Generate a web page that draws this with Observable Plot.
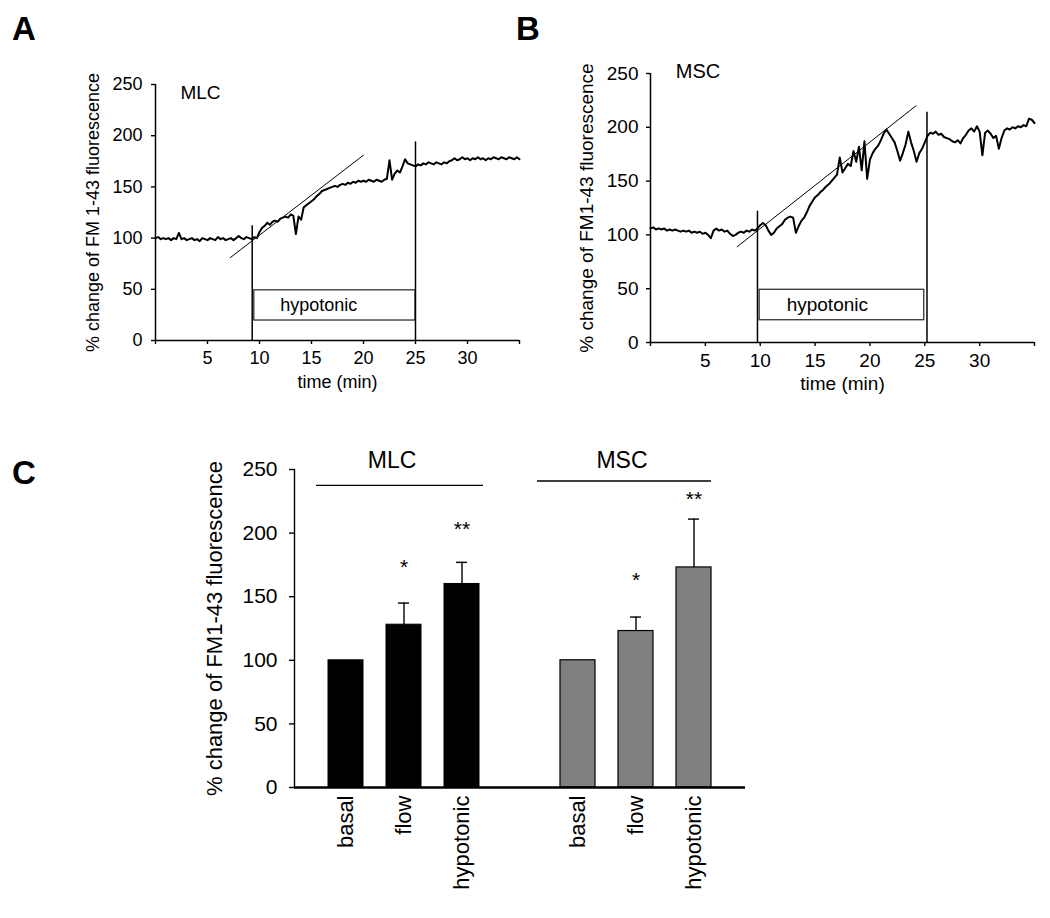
<!DOCTYPE html>
<html><head><meta charset="utf-8">
<script src="https://cdn.jsdelivr.net/npm/d3@7"></script>
<script src="https://cdn.jsdelivr.net/npm/@observablehq/plot@0.6"></script>
<style>
body{margin:0;background:#fff;}
#fig{position:relative;width:1050px;height:918px;overflow:hidden;font-family:"Liberation Sans",Arial,sans-serif;background:#fff;}
.panel{position:absolute;}
.letter{position:absolute;font-weight:bold;font-size:33px;line-height:33px;color:#000;}
</style></head><body>
<div id="fig">
  <div class="letter" style="left:12px;top:12px">A</div>
  <div class="letter" style="left:516px;top:12px">B</div>
  <div class="letter" style="left:12px;top:456px">C</div>
  <div class="panel" id="pa" style="left:0px;top:60px"></div>
  <div class="panel" id="pb" style="left:510px;top:50px"></div>
  <div class="panel" id="pc" style="left:150px;top:440px"></div>
</div>
<script>
// ---------- data ----------
const traceStep = 0.25; // minutes between samples
const mlcTrace = [
100,101,99,100, 99,100,98,100, 99,105,99,100, 98,99,100,98, 99,97,100,99,
98,100,99,98, 101,99,100,98, 99,100,98,100, 102,100,99,101, 100,99,101,100,
106,110,112,115, 113,116,117,116, 119,120,121,120, 123,122,104,121, 118,130,132,134,
136,138,141,143, 146,147,148,149, 150,151,150,152, 153,152,154,153, 155,154,156,155,
156,155,157,156, 155,157,156,155, 157,158,176,157, 163,166,164,170, 177,173,172,171,
170,172,171,173, 172,174,173,172, 174,173,172,174, 173,175,176,178, 176,177,179,177,
178,176,178,177, 179,177,178,176, 178,177,179,178, 177,179,178,177, 179,178,177,179,
177];
const mscTrace = [
106,107,105,106, 105,106,104,105, 104,105,104,103, 104,103,104,102, 103,102,103,101,
102,100,97,104, 106,104,105,103, 104,101,99,100, 102,103,102,104, 103,105,104,106,
109,111,109,104, 100,102,106,108, 110,114,116,117, 116,102,108,113, 116,121,127,131,
135,137,140,142, 145,147,150,153, 156,172,158,162, 166,164,178,168, 182,160,187,152,
170,176,180,183, 188,194,198,194, 190,186,178,169, 176,184,196,186, 178,168,176,180,
186,192,195,194, 196,193,194,191, 190,189,187,186, 188,185,190,193, 197,199,196,201,
196,174,195,197, 194,190,192,180, 190,197,199,198, 200,199,201,200, 202,201,208,207,
204];
const mlcTangent = [{t: 7.2, v: 81}, {t: 20, v: 181}];
const mscTangent = [{t: 7.9, v: 89}, {t: 24.2, v: 220}];
const mlcStimulus = [{t: 9.3, top: 112}, {t: 25, top: 194}];
const mscStimulus = [{t: 9.75, top: 122}, {t: 25.2, top: 214}];
const mlcBox = {x1: 9.5, x2: 25, y1: 19.5, y2: 49, text: "hypotonic"};
const mscBox = {x1: 9.95, x2: 24.95, y1: 20.7, y2: 49, text: "hypotonic"};
const mlcTag = {t: 2.4, v: 242, text: "MLC"};
const mscTag = {t: 2.3, v: 252, text: "MSC"};
const timeTicks = [0, 5, 10, 15, 20, 25, 30, 35];
const valueTicks = [0, 50, 100, 150, 200, 250];

const cellTypes = ["MLC", "MSC"];
const conditions = ["basal", "flow", "hypotonic"];
const mlcMeans = [100, 128, 160];
const mlcErrors = [0, 17, 17];
const mscMeans = [100, 123, 173];
const mscErrors = [0, 11, 38];
const mlcStars = ["", "*", "**"];
const mscStars = ["", "*", "**"];
const mlcStarY = [null, 176, 206];
const mscStarY = [null, 166, 230];
const groupLineY = [237.5, 241];
const groupLabelY = 257;

const FONT = '"Liberation Sans", Arial, sans-serif';

// ---------- time-course panels ----------
function timePanel(o) {
  const trace = o.values.map((v, i) => ({t: i * traceStep, v}));
  return Plot.plot({
    width: o.width, height: o.height,
    marginLeft: o.ml, marginRight: o.mr, marginTop: o.mt, marginBottom: o.mb,
    x: {domain: [0, 35]},
    y: {domain: [0, 250]},
    style: {fontFamily: FONT, fontSize: o.fs + "px", color: "#000", background: "transparent", overflow: "visible"},
    marks: [
      Plot.rect([o.box], {x1: "x1", x2: "x2", y1: "y1", y2: "y2", fill: "white", stroke: "#333", strokeWidth: 1.3}),
      Plot.text([o.box], {x: "x1", y: d => (d.y1 + d.y2) / 2, text: "text", textAnchor: "start", dx: o.boxdx, fontSize: o.fs}),
      Plot.ruleX(o.stim, {x: "t", y1: 0, y2: "top", strokeWidth: 1.5}),
      Plot.line(o.tangent, {x: "t", y: "v", strokeWidth: 1}),
      Plot.line(trace, {x: "t", y: "v", strokeWidth: 2}),
      Plot.text([o.tag], {x: "t", y: "v", text: "text", textAnchor: "start", fontSize: o.tagfs}),
      Plot.ruleY([0], {strokeWidth: 1.5}),
      Plot.ruleX([0], {strokeWidth: 1.5}),
      Plot.axisY({ticks: valueTicks, tickSize: 4, tickPadding: o.typ, label: null, strokeWidth: 1.4, fontSize: o.fs}),
      Plot.axisX({ticks: timeTicks, tickSize: 4, tickPadding: 7, label: null, strokeWidth: 1.4, fontSize: o.fs,
        tickFormat: d => (d > 0 && d < 35) ? String(d) : ""}),
      Plot.text([o.yTitle], {frameAnchor: "left", textAnchor: "middle", lineAnchor: "middle", rotate: -90, dx: o.ytdx, fontSize: o.fs}),
      Plot.text(["time (min)"], {frameAnchor: "bottom", textAnchor: "middle", lineAnchor: "middle", dy: o.xtdy, fontSize: o.fs})
    ]
  });
}

document.getElementById("pa").append(timePanel({
  values: mlcTrace, tangent: mlcTangent, stim: mlcStimulus, box: mlcBox, tag: mlcTag,
  yTitle: "% change of FM 1-43 fluorescence",
  width: 540, height: 340, ml: 155, mr: 21, mt: 24, mb: 60, fs: 18, tagfs: 19, typ: 9, ytdx: -62.5, xtdy: 42, boxdx: 26
}));
document.getElementById("pb").append(timePanel({
  values: mscTrace, tangent: mscTangent, stim: mscStimulus, box: mscBox, tag: mscTag,
  yTitle: "% change of FM1-43 fluorescence",
  width: 540, height: 350, ml: 140, mr: 16, mt: 23, mb: 58, fs: 19, tagfs: 20, typ: 8, ytdx: -64, xtdy: 41, boxdx: 27
}));

// ---------- bar panel ----------
const rows = [];
cellTypes.forEach((cell, ci) => {
  const means = ci === 0 ? mlcMeans : mscMeans;
  const errs = ci === 0 ? mlcErrors : mscErrors;
  const stars = ci === 0 ? mlcStars : mscStars;
  const starY = ci === 0 ? mlcStarY : mscStarY;
  conditions.forEach((cond, j) => rows.push({
    key: cell + "|" + cond, cell, cond, mean: means[j], err: errs[j], star: stars[j], starY: starY[j]
  }));
});
const xDomain = ["MLC|basal", "MLC|flow", "MLC|hypotonic", "gap", "MSC|basal", "MSC|flow", "MSC|hypotonic"];
const groups = [
  {cell: "MLC", x1: "MLC|basal", x2: "MLC|hypotonic", y: groupLineY[0]},
  {cell: "MSC", x1: "MSC|basal", x2: "MSC|hypotonic", y: groupLineY[1]}
];
const withErr = rows.filter(d => d.err > 0);

const pc = Plot.plot({
  width: 610, height: 478,
  marginLeft: 144, marginRight: 15, marginTop: 29, marginBottom: 131,
  x: {type: "band", domain: xDomain, paddingInner: 0.395, paddingOuter: 0.549, align: 0.5},
  y: {domain: [0, 250]},
  style: {fontFamily: FONT, fontSize: "21px", color: "#000", background: "transparent", overflow: "visible"},
  marks: [
    Plot.barY(rows.filter(d => d.cell === "MLC"), {x: "key", y: "mean", fill: "#000", stroke: "#000", strokeWidth: 1}),
    Plot.barY(rows.filter(d => d.cell === "MSC"), {x: "key", y: "mean", fill: "#808080", stroke: "#000", strokeWidth: 1.2}),
    Plot.ruleX(withErr, {x: "key", y1: "mean", y2: d => d.mean + d.err, strokeWidth: 1.4}),
    Plot.tickY(withErr, {x: "key", y: d => d.mean + d.err, insetLeft: 12, insetRight: 12, strokeWidth: 1.4}),
    Plot.text(rows.filter(d => d.star), {x: "key", y: "starY", text: "star", fontSize: 21, dy: 4}),
    Plot.ruleY(groups.slice(0, 1), {x1: "x1", x2: "x2", y: "y", strokeWidth: 1.4, insetLeft: -12, insetRight: -4}),
    Plot.ruleY(groups.slice(1), {x1: "x1", x2: "x2", y: "y", strokeWidth: 1.4, insetLeft: -23, insetRight: 0}),
    Plot.text(groups.slice(0, 1), {x: () => "MLC|flow", y: () => groupLabelY, text: "cell", fontSize: 23, dx: -12}),
    Plot.text(groups.slice(1), {x: () => "MSC|flow", y: () => groupLabelY, text: "cell", fontSize: 23, dx: -14}),
    Plot.ruleY([0], {strokeWidth: 2.4}),
    Plot.frame({anchor: "left", strokeWidth: 1.4}),
    Plot.axisY({ticks: valueTicks, tickSize: 5, tickPadding: 12, label: null, strokeWidth: 1.4, fontSize: 21}),
    Plot.axisX({tickSize: 0, tickPadding: 8, tickRotate: -90, label: null, fontSize: 22,
      tickFormat: d => d.includes("|") ? d.split("|")[1] : ""}),
    Plot.text(["% change of FM1-43 fluorescence"], {frameAnchor: "left", textAnchor: "middle", lineAnchor: "middle", rotate: -90, dx: -80, fontSize: 22})
  ]
});
document.getElementById("pc").append(pc);
</script>
</body></html>
